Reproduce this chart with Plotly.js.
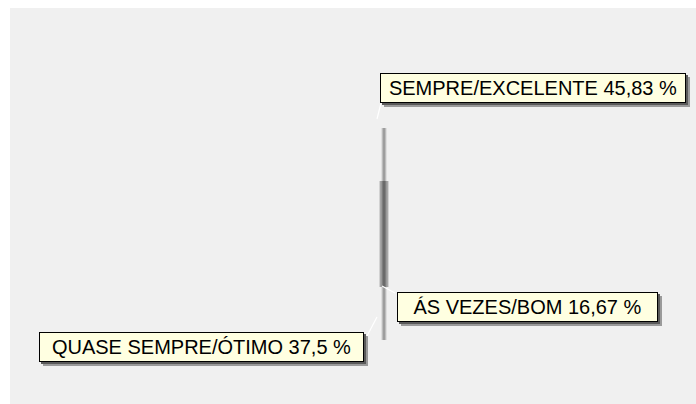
<!DOCTYPE html>
<html>
<head>
<meta charset="utf-8">
<script src="https://cdn.plot.ly/plotly-3.0.1.min.js"></script>
<style>html,body{margin:0;padding:0;background:#f0f0f0;overflow:hidden;}#chart{width:696px;height:404px;}</style>
</head>
<body>
<div id="chart"></div>
<script>
// ---- data ----
const categories = ['SEMPRE/EXCELENTE', 'QUASE SEMPRE/ÓTIMO', 'ÁS VEZES/BOM'];
const values = [45.83, 37.5, 16.67];

// ---- style / geometry settings ----
const startAngle = 60;      // degrees, measured from top, slices go counter-clockwise
const W = 696, H = 404;
const mL = 10, mT = 8, mR = 0, mB = 0;
const cxPx = 384, cyPx = 234, Rpx = 106;   // pie centre / radius in pixels (edge-on)
const xRange = [(mL - cxPx) / Rpx, (W - mR - cxPx) / Rpx];
const yRange = [(cyPx - (H - mB)) / Rpx, (cyPx - mT) / Rpx];
const px2x = p => (p - cxPx) / Rpx;
const py2y = p => (cyPx - p) / Rpx;

const total = values.reduce((a, b) => a + b, 0);
const traces = [];
let cum = 0;
const slices = values.map((v, i) => {
  const a0 = startAngle - cum / total * 360;
  const a1 = a0 - v / total * 360;
  cum += v;
  const ys = [];
  const n = 90;
  let front = false;
  for (let k = 0; k <= n; k++) {
    const deg = a0 + (a1 - a0) * k / n;
    ys.push(Math.cos(deg * Math.PI / 180));
    let a = deg % 360; if (a < 0) a += 360;
    if (Math.abs(a - 90) < 1) front = true;   // slice facing the viewer
  }
  return {lo: Math.min(...ys), hi: Math.max(...ys), front};
});

const backStyles = [[5, '#cdcdcd'], [3, '#ababab'], [1, '#909090']];
const frontStyles = [[9, '#b4b4b4'], [7, '#999999'], [4, '#7d7d7d'], [2, '#6a6a6a']];
slices.filter(s => !s.front).forEach(s => {
  backStyles.forEach(([w, c]) => traces.push({
    type: 'scatter', mode: 'lines', x: [0, 0], y: [s.lo, s.hi],
    line: {width: w, color: c}, hoverinfo: 'skip', showlegend: false
  }));
});
slices.filter(s => s.front).forEach(s => {
  frontStyles.forEach(([w, c]) => traces.push({
    type: 'scatter', mode: 'lines', x: [0, 0], y: [s.lo, s.hi],
    line: {width: w, color: c}, hoverinfo: 'skip', showlegend: false
  }));
});

// label boxes (positions in pixels: left, top, text width)
const labelBoxes = [
  {left: 380, top: 73, w: 302},
  {left: 39, top: 332, w: 321},
  {left: 397, top: 292, w: 257}
];
const boxH = 30;
const leaders = [
  [377, 119, 381, 103],
  [377, 317, 367, 336],
  [382, 286, 395, 293]
];
const fmt = v => String(v).replace('.', ',') + ' %';
const font = {family: 'Liberation Sans, Arial, sans-serif', size: 20, color: '#000'};
const annotations = [];
const shapes = [];
// white frame strips (top and left) outside the grey panel
shapes.push({type: 'rect', xref: 'paper', yref: 'paper', layer: 'below',
  x0: -mL / (W - mL - mR), x1: 1, y0: 1, y1: 1 + mT / (H - mT - mB),
  fillcolor: '#ffffff', line: {width: 0}});
shapes.push({type: 'rect', xref: 'paper', yref: 'paper', layer: 'below',
  x0: -mL / (W - mL - mR), x1: 0, y0: 0, y1: 1 + mT / (H - mT - mB),
  fillcolor: '#ffffff', line: {width: 0}});
categories.forEach((c, i) => {
  const b = labelBoxes[i];
  const bw = b.w + 4;
  // drop shadow
  [[4, '#9a9a9a'], [2, '#5a5a5a']].forEach(([o, col]) => shapes.push({
    type: 'rect', xref: 'x', yref: 'y', layer: 'above',
    x0: px2x(b.left + o), x1: px2x(b.left + bw + o),
    y0: py2y(b.top + o), y1: py2y(b.top + boxH + o),
    fillcolor: col, line: {width: 0}
  }));
  annotations.push({
    xref: 'x', yref: 'y', x: px2x(b.left), y: py2y(b.top),
    xanchor: 'left', yanchor: 'top', showarrow: false,
    text: c + ' ' + fmt(values[i]), width: b.w, height: boxH - 4,
    borderpad: 1, borderwidth: 1, align: 'center',
    bgcolor: '#ffffe1', bordercolor: '#000000', font: font
  });
});
leaders.forEach(l => shapes.push({
  type: 'line', xref: 'x', yref: 'y',
  x0: px2x(l[0]), y0: py2y(l[1]), x1: px2x(l[2]), y1: py2y(l[3]),
  line: {color: '#ffffff', width: 1.2}
}));

const layout = {
  width: W, height: H,
  margin: {l: mL, r: mR, t: mT, b: mB, pad: 0},
  paper_bgcolor: '#f0f0f0', plot_bgcolor: '#f0f0f0',
  xaxis: {range: xRange, visible: false, fixedrange: true},
  yaxis: {range: yRange, visible: false, fixedrange: true},
  showlegend: false, hovermode: false,
  annotations: annotations, shapes: shapes
};
Plotly.newPlot('chart', traces, layout, {displayModeBar: false, staticPlot: true});
</script>
</body>
</html>
